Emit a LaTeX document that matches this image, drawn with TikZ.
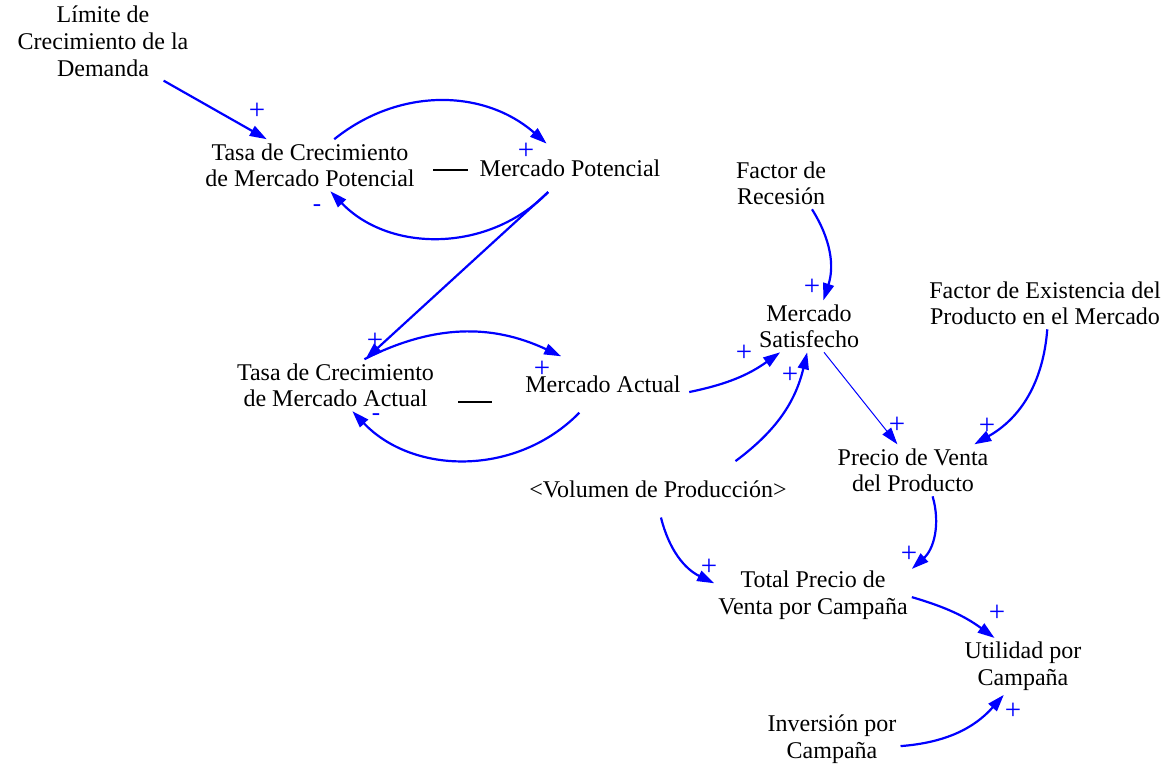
\documentclass[tikz,border=0pt]{standalone}
\usepackage{fontspec}
\setmainfont{Liberation Serif}
\usetikzlibrary{arrows.meta}
\definecolor{linkblue}{RGB}{0,0,255}
\begin{document}
\begin{tikzpicture}[x=1pt,y=-1pt,
  varnode/.style={align=center, inner sep=4pt, font=\fontsize{24}{26.7}\selectfont},
  conn/.style={draw=linkblue, line width=2.2pt, -{Triangle[length=17pt,width=11pt]}},
  thinconn/.style={conn, line width=1pt},
  pol/.style={text=linkblue, inner sep=0pt, font=\fontsize{29}{29}\selectfont},
  neg/.style={text=linkblue, inner sep=0pt, font=\fontsize{25}{25}\selectfont},
  delaybar/.style={draw=black, line width=2.8pt}]
\fill[white] (0,0) rectangle (1169,764);
\useasboundingbox (0,0) rectangle (1169,764);

% variables
\node[varnode] (LIM) at (103,41.3) {Límite de\\Crecimiento de la\\Demanda};
\node[varnode] (TMP) at (310,165.2) {Tasa de Crecimiento\\de Mercado Potencial};
\node[varnode, minimum height=48pt] (MP) at (570,167.8) {Mercado Potencial};
\node[varnode] (TMA) at (335.5,385.2) {Tasa de Crecimiento\\de Mercado Actual};
\node[varnode, minimum height=56pt, minimum width=172pt] (MA) at (603,384.5) {Mercado Actual};
\node[varnode] (FR) at (781,183.3) {Factor de\\Recesión};
\node[varnode] (MS) at (809,326.3) {Mercado\\Satisfecho};
\node[varnode] (FE) at (1045,303.3) {Factor de Existencia del\\Producto en el Mercado};
\node[varnode] (PV) at (913,470.3) {Precio de Venta\\del Producto};
\node[varnode, minimum height=56pt] (VOL) at (658,489.3) {\textless Volumen de Producción\textgreater};
\node[varnode] (TPV) at (813,595.4) {Total Precio de\\Venta por Campaña};
\node[varnode] (UT) at (1023,666.4) {Utilidad por\\Campaña};
\node[varnode] (INV) at (832,738.9) {Inversión por\\Campaña};

% delay marks
\draw[delaybar] (433,170) -- (468,170);
\draw[delaybar] (458,402) -- (492,402);

% causal links
\draw[conn] (LIM.-33) -- (TMP.149);
\draw[conn] (TMP.47) to[bend left=40] (MP.134);
\draw[conn] (MP.-132) to[bend left=46] (TMP.-52);
\draw[conn] (MP.-132) -- (TMA.41.5);
\draw[conn] (TMA.42) to[bend left=26] (MA.146);
\draw[conn] (MA.-130) to[bend left=46] (TMA.-57);
\draw[conn] (MA.-5) to[bend right=12] (MS.-138);
\draw[conn] (VOL.20) to[bend right=20] (MS.-94);
\draw[conn] (FR.-40) to[bend left=25] (MS.61);
\draw[thinconn] (MS.-60) -- (PV.121);
\draw[conn] (FE.-85) to[bend left=28] (PV.23);
\draw[conn] (PV.-53) to[bend left=32] (TPV.15);
\draw[conn] (VOL.-84) to[bend right=25] (TPV.173);
\draw[conn] (TPV.-1) to[bend left=10] (UT.135);
\draw[conn] (INV.-6) to[bend right=22] (UT.-124);

% polarities
\node[pol] (s1) at (257,111) {+};
\node[pol] (s2) at (526,151) {+};
\node[neg] (s3) at (317,208) {-};
\node[pol] (s4) at (375,341) {+};
\node[pol] (s5) at (542,369) {+};
\node[neg] (s6) at (376,417) {-};
\node[pol] (s7) at (744,353) {+};
\node[pol] (s8) at (790,375) {+};
\node[pol] (s9) at (812,287) {+};
\node[pol] (s10) at (897,425) {+};
\node[pol] (s11) at (987,426) {+};
\node[pol] (s12) at (909,554) {+};
\node[pol] (s13) at (709,567) {+};
\node[pol] (s14) at (997,613) {+};
\node[pol] (s15) at (1013,711) {+};
\end{tikzpicture}
\end{document}
